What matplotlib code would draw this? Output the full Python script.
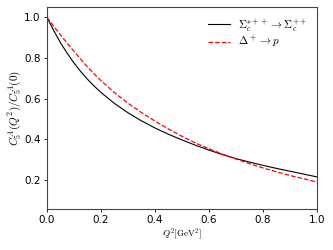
import matplotlib
matplotlib.use('Agg')
import matplotlib.pyplot as plt
import numpy as np

plt.rcParams['mathtext.fontset'] = 'cm'

## Q^2 grid and form factor ratios
q2 = [0.0, 0.025, 0.05, 0.075, 0.1, 0.125, 0.15, 0.175, 0.2, 0.25, 0.3, 0.35, 0.4, 0.45, 0.5,
      0.55, 0.6, 0.65, 0.7, 0.75, 0.8, 0.85, 0.9, 0.95, 1.0]
sigma_c = [1.000, 0.935, 0.875, 0.823, 0.775, 0.733, 0.695, 0.661, 0.630, 0.576, 0.530, 0.490,
           0.455, 0.424, 0.396, 0.370, 0.346, 0.324, 0.304, 0.287, 0.271, 0.256, 0.242, 0.228, 0.214]
delta_p = [1.000, 0.956, 0.914, 0.872, 0.833, 0.794, 0.756, 0.721, 0.688, 0.629, 0.577, 0.531,
           0.489, 0.450, 0.414, 0.381, 0.353, 0.326, 0.302, 0.279, 0.258, 0.239, 0.221, 0.205, 0.189]

q2 = np.array(q2)
sigma_c = np.array(sigma_c)
delta_p = np.array(delta_p)

fig, ax = plt.subplots(figsize=(3.33, 2.5), dpi=100)
ax.plot(q2, sigma_c, color='black', lw=0.8, label=r'$\Sigma_c^{*++}\rightarrow\Sigma_c^{++}$')
ax.plot(q2, delta_p, color='red', lw=0.9, linestyle='dashed', label=r'$\Delta^+\rightarrow p$')

ax.set_xlim(0, 1.0)
ax.set_ylim(0.056, 1.052)
ax.set_xticks([0.0, 0.2, 0.4, 0.6, 0.8, 1.0])
ax.set_yticks([0.2, 0.4, 0.6, 0.8, 1.0])
ax.tick_params(labelsize=7.5, length=2.5, width=0.6, pad=2)
for s in ax.spines.values():
    s.set_linewidth(0.8)
    s.set_color('#444444')

ax.set_xlabel(r'$Q^2[\mathrm{GeV}^2]$', fontsize=6.5, labelpad=1)
ax.set_ylabel(r'$C_5^A(Q^2)/C_5^A(0)$', fontsize=8, labelpad=1)
ax.legend(loc='upper right', frameon=False, fontsize=8, handlelength=2.0,
          handletextpad=0.7, labelspacing=0.05, borderaxespad=0.5)

plt.subplots_adjust(left=0.141, right=0.952, top=0.973, bottom=0.164)
plt.savefig('out.png', dpi=100)
